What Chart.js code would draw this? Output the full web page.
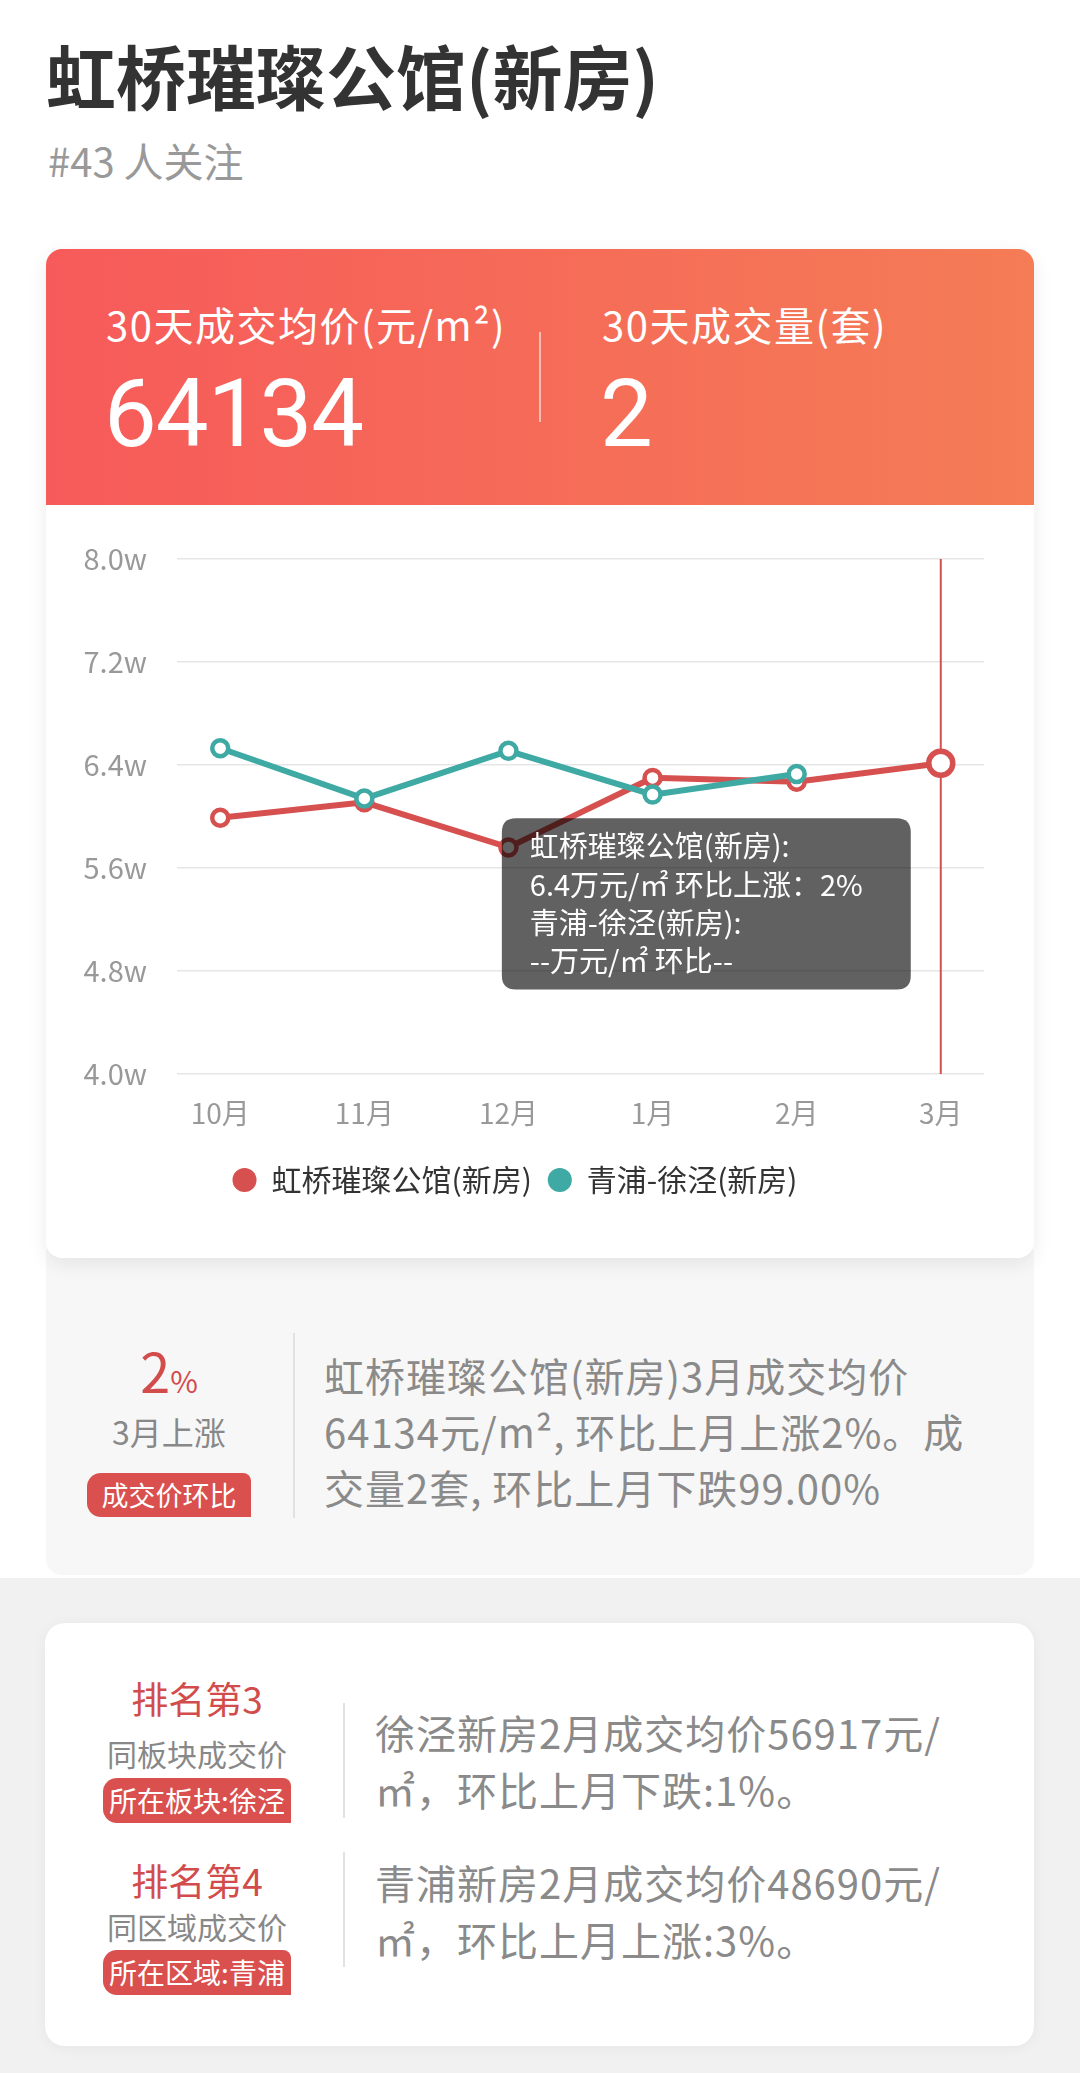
<!DOCTYPE html>
<html lang="zh">
<head>
<meta charset="UTF-8">
<title>虹桥璀璨公馆(新房)</title>
<script src="https://cdn.jsdelivr.net/npm/chart.js"></script>
<style>
  body { margin: 0; width: 1080px; height: 2073px; position: relative; background: #fff; overflow: hidden;
         font-family: 'Noto Sans CJK SC', 'Noto Sans', sans-serif; }
  .abs { position: absolute; line-height: 1; white-space: nowrap; }
  .title { left: 46px; top: 40px; font-size: 70px; font-weight: 700; color: #333; }
  .sub { left: 48px; top: 140px; font-size: 40px; color: #999; }
  .greybg { left: 0; top: 1578px; width: 1080px; height: 495px; background: #f1f1f1; }
  .summary { left: 46px; top: 1250px; width: 988px; height: 325px; background: #f7f7f7; border-radius: 0 0 16px 16px; }
  .main { left: 46px; top: 249px; width: 988px; height: 1009px; background: #fff; border-radius: 16px;
          box-shadow: 0 6px 20px rgba(0,0,0,0.08); overflow: hidden; z-index: 2; }
  .hdr { position: absolute; left: 0; top: 0; width: 988px; height: 256px; color: #fff;
         background: linear-gradient(90deg, #f75a5a, #f47c56); }
  .lbl { font-size: 40px; letter-spacing: 1.5px; }
  .num { font-family: Roboto, sans-serif; font-size: 94px; letter-spacing: -1px; }
  .vsep { position: absolute; left: 493px; top: 83px; width: 2px; height: 90px; background: rgba(255,255,255,0.55); }
  #chartBox { position: absolute; left: 0; top: 256px; }
  .red { color: #d24c4c; }
  .badge { background: #d9504f; color: #fff; text-align: center; border-radius: 14px 8px 0 14px; }
  .vline { width: 2px; background: #e2e2e2; }
  .para { font-size: 40px; letter-spacing: 1px; color: #8a8a8a; }
  .rank { left: 45px; top: 1623px; width: 989px; height: 423px; background: #fff; border-radius: 20px;
          box-shadow: 0 2px 14px rgba(0,0,0,0.05); }
  .center { text-align: center; }
</style>
</head>
<body>
<div class="abs title">虹桥璀璨公馆(新房)</div>
<div class="abs sub">#43 人关注</div>

<div class="abs greybg"></div>
<div class="abs summary"></div>

<div class="abs main">
  <div class="hdr">
    <div class="abs lbl" style="left:60px;top:55px;">30天成交均价(元/m²)</div>
    <div class="abs num" style="left:58px;top:118px;">64134</div>
    <div class="vsep"></div>
    <div class="abs lbl" style="left:556px;top:55px;">30天成交量(套)</div>
    <div class="abs num" style="left:554px;top:118px;">2</div>
  </div>
  <div id="chartBox"><canvas id="chart" width="988" height="753" style="width:988px;height:753px;"></canvas></div>
</div>

<!-- 环比 summary -->
<div class="abs red center" style="left:87px;top:1343px;width:164px;">
  <span style="font-size:54px;">2</span><span style="font-size:30px;">%</span>
</div>
<div class="abs center" style="left:87px;top:1415px;width:164px;font-size:32px;color:#888;">3月上涨</div>
<div class="abs badge" style="left:87px;top:1473px;width:164px;height:44px;line-height:44px;font-size:27px;">成交价环比</div>
<div class="abs vline" style="left:293px;top:1333px;height:185px;"></div>
<div class="abs para" style="left:324px;top:1347px;line-height:56px;">
  虹桥璀璨公馆(新房)3月成交均价<br>64134元/m², 环比上月上涨2%。成<br>交量2套, 环比上月下跌99.00%
</div>

<!-- 排名 -->
<div class="abs rank"></div>
<div class="abs red center" style="left:103px;top:1680px;width:188px;font-size:37px;">排名第3</div>
<div class="abs center" style="left:103px;top:1738px;width:188px;font-size:30px;color:#888;">同板块成交价</div>
<div class="abs badge" style="left:103px;top:1778px;width:188px;height:45px;line-height:45px;font-size:28px;">所在板块:徐泾</div>
<div class="abs vline" style="left:343px;top:1703px;height:115px;"></div>
<div class="abs para" style="left:375px;top:1704px;line-height:57px;">徐泾新房2月成交均价56917元/<br>㎡，环比上月下跌:1%。</div>

<div class="abs red center" style="left:103px;top:1862px;width:188px;font-size:37px;">排名第4</div>
<div class="abs center" style="left:103px;top:1911px;width:188px;font-size:30px;color:#888;">同区域成交价</div>
<div class="abs badge" style="left:103px;top:1950px;width:188px;height:45px;line-height:45px;font-size:28px;">所在区域:青浦</div>
<div class="abs vline" style="left:343px;top:1852px;height:115px;"></div>
<div class="abs para" style="left:375px;top:1854px;line-height:57px;">青浦新房2月成交均价48690元/<br>㎡，环比上月上涨:3%。</div>

<script>
// data (元/㎡)
const months = ['10月', '11月', '12月', '1月', '2月', '3月'];
const hqName = '虹桥璀璨公馆(新房)';
const hqPrice = [59900, 61100, 57600, 63000, 62700, 64134];
const qpName = '青浦-徐泾(新房)';
const qpPrice = [65300, 61400, 65100, 61700, 63300, null];
const yMin = 40000, yMax = 80000, yStep = 8000;
const activeMonth = 5;

const RED = '#d65050';
const TEAL = '#3fa9a4';

Chart.defaults.font.family = "'Noto Sans CJK SC', 'Noto Sans', sans-serif";

// tooltip sits to the lower-left of the hovered point
Chart.Tooltip.positioners.lowerLeft = function (items) {
    const el = items[0].element;
    return { x: el.x - 44, y: el.y + 55 };
};

// vertical guide line at the hovered month
const guideLine = {
    id: 'guideLine',
    beforeDatasetsDraw(chart) {
        const act = chart.tooltip.getActiveElements();
        if (!act.length) return;
        const x = act[0].element.x;
        const { top, bottom } = chart.chartArea;
        const ctx = chart.ctx;
        ctx.save();
        ctx.strokeStyle = RED;
        ctx.lineWidth = 2;
        ctx.beginPath();
        ctx.moveTo(x, top);
        ctx.lineTo(x, bottom);
        ctx.stroke();
        ctx.restore();
    }
};

function lineSet(label, values, color, order) {
    return {
        label,
        data: values.map((v, i) => ({ x: i, y: v })),
        borderColor: color,
        backgroundColor: color,
        borderWidth: 6,
        pointRadius: 8,
        pointBorderWidth: 4.5,
        pointBackgroundColor: '#fff',
        pointBorderColor: color,
        pointHoverRadius: 12,
        pointHoverBorderWidth: 5.5,
        pointHoverBackgroundColor: '#fff',
        pointHoverBorderColor: color,
        tension: 0,
        order
    };
}

function tipLines(ctx) {
    const arr = ctx.datasetIndex === 0 ? hqPrice : qpPrice;
    const v = arr[ctx.dataIndex];
    const prev = arr[ctx.dataIndex - 1];
    if (v == null || prev == null) return [ctx.dataset.label + ':', '--万元/㎡ 环比--'];
    const pct = Math.round((v - prev) / prev * 100);
    return [ctx.dataset.label + ':',
        (v / 10000).toFixed(1) + '万元/㎡ 环比' + (pct >= 0 ? '上涨' : '下跌') + '：' + Math.abs(pct) + '%'];
}

const chart = new Chart(document.getElementById('chart'), {
    type: 'line',
    data: {
        datasets: [lineSet(hqName, hqPrice, RED, 1), lineSet(qpName, qpPrice, TEAL, 0)]
    },
    plugins: [guideLine],
    options: {
        responsive: false,
        devicePixelRatio: 1,
        animation: false,
        events: [],
        layout: { padding: { top: 54, right: 50, bottom: 53, left: 0 } },
        scales: {
            x: {
                type: 'linear',
                min: -0.3,
                max: months.length - 0.7,
                afterBuildTicks: s => { s.ticks = months.map((m, i) => ({ value: i })); },
                ticks: { callback: v => months[v], color: '#999', font: { size: 28 }, padding: 15, autoSkip: false, maxRotation: 0 },
                grid: { display: false },
                border: { display: false },
                afterFit: s => { s.height = 75; }
            },
            y: {
                min: yMin,
                max: yMax,
                ticks: { stepSize: yStep, callback: v => (v / 10000).toFixed(1) + 'w', color: '#999', font: { size: 29 }, padding: 30 },
                grid: { color: '#e6e6e6', lineWidth: 1.5, drawTicks: false },
                border: { display: false },
                afterFit: s => { s.width = 131; }
            }
        },
        plugins: {
            legend: {
                position: 'bottom',
                labels: {
                    usePointStyle: true,
                    boxWidth: 24,
                    boxHeight: 17,
                    padding: 16,
                    color: '#333',
                    font: { size: 30 },
                    sort: (a, b) => a.datasetIndex - b.datasetIndex,
                    generateLabels: c => Chart.defaults.plugins.legend.labels.generateLabels(c)
                        .map(l => ({ ...l, fillStyle: l.strokeStyle, lineWidth: 0 }))
                }
            },
            tooltip: {
                position: 'lowerLeft',
                xAlign: 'right',
                yAlign: 'top',
                caretSize: 0,
                caretPadding: 0,
                cornerRadius: 14,
                backgroundColor: 'rgba(0,0,0,0.62)',
                displayColors: false,
                bodyColor: '#fff',
                bodyFont: { size: 29, lineHeight: 1.32 },
                bodySpacing: 0,
                padding: { top: 9, bottom: 9, left: 28, right: 48 },
                callbacks: { title: () => '', label: tipLines }
            }
        }
    }
});

const act = [{ datasetIndex: 0, index: activeMonth }, { datasetIndex: 1, index: activeMonth }];
chart.setActiveElements(act);
chart.tooltip.setActiveElements(act, { x: 0, y: 0 });
chart.update();
</script>
</body>
</html>
